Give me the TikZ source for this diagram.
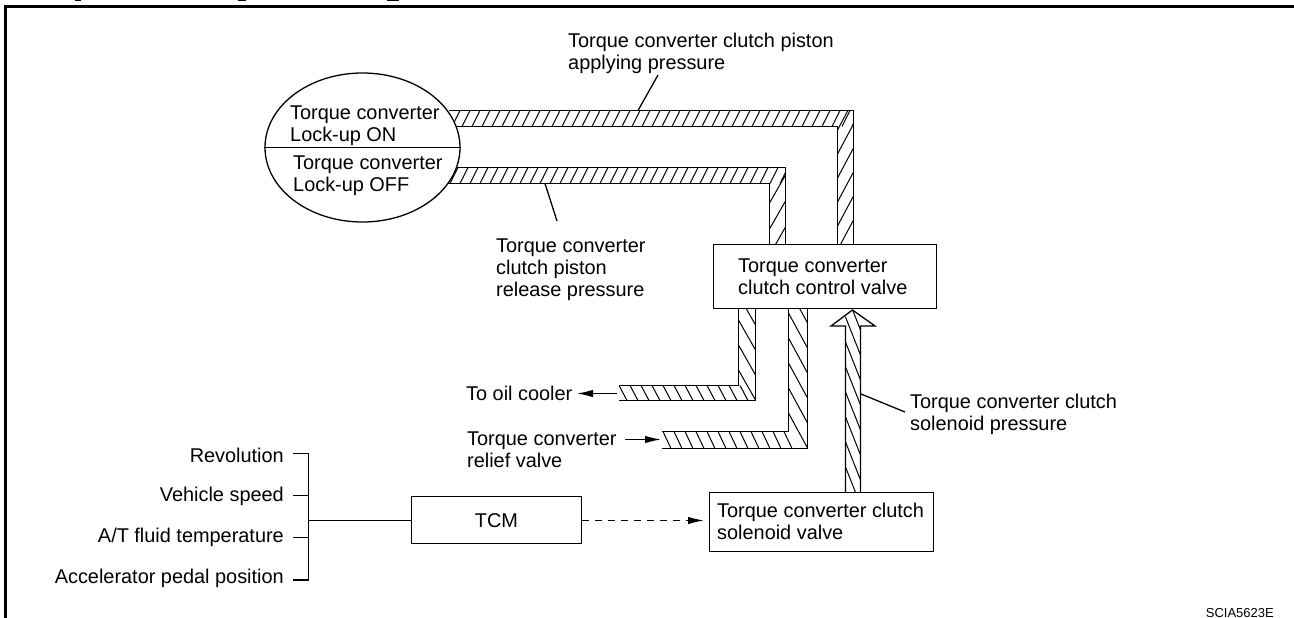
\documentclass[tikz,border=0pt]{standalone}
\usepackage{fontspec}
\setmainfont{Liberation Sans}
\usetikzlibrary{arrows.meta,shapes.geometric}
\tikzset{
  x=1pt,y=-1pt,
  thin line/.style={line width=1.3pt,draw=black},
  frame line/.style={line width=3pt,draw=black},
  hatch line/.style={line width=1pt,draw=black},
  pipe edge/.style={line width=1.3pt,draw=black},
  box/.style={draw=black,line width=1.3pt,fill=white,minimum width=#1,inner sep=0pt},
  label/.style={inner sep=0pt,font=\fontsize{19.9}{21.7}\selectfont,align=left,text=black},
  rlabel/.style={inner sep=0pt,font=\fontsize{19.9}{21.7}\selectfont,align=right,text=black},
  tip/.style={-{Latex[length=16pt,width=7.5pt]},line width=1.3pt},
}
\begin{document}
\begin{tikzpicture}
\useasboundingbox (0,0) rectangle (1294,618);
% frame
\draw[frame line] (5.5,618) -- (5.5,6.5) -- (1294,6.5);
% clipped title remnants
\fill (75,0) rectangle (81,1.5);
\fill (238,0) rectangle (246,1.5);
\fill (387,0) rectangle (399,1.5);
% horizontal-then-vertical upper pipes (slash hatching)
\begin{scope}
  \clip (448,110.5) -- (853.5,110.5) -- (853.5,244) -- (837.5,244) -- (837.5,126.5) -- (448,126.5) -- cycle;
  \foreach \i in {0,...,40} \draw[hatch line] ({452+\i*10},126.5) -- ({460+\i*10},110.5);
  \foreach \i in {0,...,5} \draw[hatch line] (837.5,{130+\i*24}) -- (853.5,{100+\i*24});
\end{scope}
\begin{scope}
  \clip (448,167.5) -- (785.5,167.5) -- (785.5,244) -- (769.5,244) -- (769.5,183.5) -- (448,183.5) -- cycle;
  \foreach \i in {0,...,33} \draw[hatch line] ({450+\i*10},183.5) -- ({458+\i*10},167.5);
  \foreach \i in {0,...,3} \draw[hatch line] (769.5,{203+\i*26}) -- (785.5,{175+\i*26});
\end{scope}
\coordinate (u1) at (449,110.5); \coordinate (u2) at (853.5,110.5); \coordinate (u3) at (853.5,244);
\coordinate (u4) at (837.5,244); \coordinate (u5) at (837.5,126.5); \coordinate (u6) at (451,126.5);
\draw[pipe edge] (u1) -- (u2) -- (u3) (u4) -- (u5) -- (u6);
\coordinate (v1) at (449,167.5); \coordinate (v2) at (785.5,167.5); \coordinate (v3) at (785.5,244);
\coordinate (v4) at (769.5,244); \coordinate (v5) at (769.5,183.5); \coordinate (v6) at (447,183.5);
\draw[pipe edge] (v1) -- (v2) -- (v3) (v4) -- (v5) -- (v6);
% lower pipes (backslash hatching)
\begin{scope}
  \clip (619,385.5) -- (738.5,385.5) -- (738.5,308) -- (755.5,308) -- (755.5,400.5) -- (619,400.5) -- cycle;
  \foreach \i in {0,...,11} \draw[hatch line] ({619+\i*11},385.5) -- ({627+\i*11},400.5);
  \foreach \i in {0,...,3} \draw[hatch line] (738.5,{295+\i*25}) -- (755.5,{325+\i*25});
\end{scope}
\draw[pipe edge] (738.5,308) -- (738.5,385.5) -- (619,385.5) (619,400.5) -- (755.5,400.5) -- (755.5,308);
\begin{scope}
  \clip (662,431.5) -- (788.5,431.5) -- (788.5,308) -- (807.5,308) -- (807.5,448.5) -- (662,448.5) -- cycle;
  \foreach \i in {0,...,11} \draw[hatch line] ({663+\i*11},431.5) -- ({671+\i*11},448.5);
  \foreach \i in {0,...,5} \draw[hatch line] (788.5,{288+\i*25}) -- (807.5,{323+\i*25});
\end{scope}
\draw[pipe edge] (788.5,308) -- (788.5,431.5) -- (662,431.5) (662,448.5) -- (807.5,448.5) -- (807.5,308);
% hollow arrow
\begin{scope}
  \clip (845.5,492) -- (845.5,326) -- (831,326) -- (852.5,310) -- (875,326) -- (860.5,326) -- (860.5,492) -- cycle;
  \foreach \i in {0,...,8} \draw[hatch line] (845.5,{292+\i*25}) -- (860.5,{330+\i*25});
\end{scope}
\draw[pipe edge,line join=miter] (845.5,492) -- (845.5,326) -- (831,326) -- (852.5,310) -- (875,326) -- (860.5,326) -- (860.5,492);
% ellipse
\node[draw=black,line width=1.3pt,ellipse,fill=white,minimum width=195pt,minimum height=149pt,inner sep=0pt] (ell) at (362.5,147.5) {};
\draw[thin line] (ell.west) -- (ell.east);
\node[label,anchor=north west] (on) at (290,106) {Torque converter\\Lock-up ON};
\node[label,anchor=north west] (off) at (293,156) {Torque converter\\Lock-up OFF};
% boxes
\node[box=223pt,minimum height=64pt,anchor=north west] (cv) at (713,244) {};
\node[label,anchor=west] (cvt) at (738,276.5) {Torque converter\\clutch control valve};
\node[box=224pt,minimum height=59pt,anchor=north west] (sv) at (709,492) {};
\node[label,anchor=west] (svt) at (717,521.5) {Torque converter clutch\\solenoid valve};
\node[box=169.5pt,minimum height=47pt,anchor=north west,font=\fontsize{19.9}{21.7}\selectfont] (tcm) at (411,496) {TCM};
% labels
\node[label,anchor=north west] (apply) at (568,33) {Torque converter clutch piston\\applying pressure};
\coordinate (aa) at (658,75); \coordinate (ab) at (638,110.5);
\draw[thin line] (aa) -- (ab);
\node[label,anchor=north west] (rel) at (496,239) {Torque converter\\clutch piston\\release pressure};
\coordinate (ra) at (545,183.5); \coordinate (rb) at (557,221);
\draw[thin line] (ra) -- (rb);
\node[label,anchor=north west] (sol) at (910,394) {Torque converter clutch\\solenoid pressure};
\coordinate (sa) at (861,394); \coordinate (sb) at (905,412);
\draw[thin line] (sa) -- (sb);
\node[label,anchor=west] (oil) at (466,393.5) {To oil cooler};
\coordinate (oa) at (617,393.5); \coordinate (ob) at (577,393.5);
\draw[thin line,tip] (oa) -- (ob);
\node[label,anchor=north west] (rv) at (467,431.5) {Torque converter\\relief valve};
\coordinate (rva) at (625,439.5); \coordinate (rvb) at (661,439.5);
\draw[thin line,tip] (rva) -- (rvb);
% inputs
\node[rlabel,anchor=east] (i1) at (284,455.5) {Revolution};
\node[rlabel,anchor=east] (i2) at (284,496.5) {Vehicle speed};
\node[rlabel,anchor=east] (i3) at (284,537.5) {A/T fluid temperature};
\node[rlabel,anchor=east] (i4) at (284,578.5) {Accelerator pedal position};
\coordinate (b1) at (293,453.5); \coordinate (b2) at (293,495.5); \coordinate (b3) at (293,537.5); \coordinate (b4) at (293,580);
\coordinate (bt) at (308.5,453.5); \coordinate (bb) at (308.5,580);
\draw[thin line] (b1) -- (bt) -- (bb) -- (b4);
\draw[thin line] (b2) -- (bt |- b2);
\draw[thin line] (b3) -- (bt |- b3);
\draw[thin line] (bt |- tcm.west) -- (tcm.west);
\coordinate (dend) at (704,520.5);
\draw[thin line,dash pattern=on 7pt off 6pt,tip] (dend -| tcm.east) -- (dend);
\node[inner sep=0pt,anchor=south east,font=\fontsize{13}{14}\selectfont] (code) at (1274,618) {SCIA5623E};
\end{tikzpicture}
\end{document}
